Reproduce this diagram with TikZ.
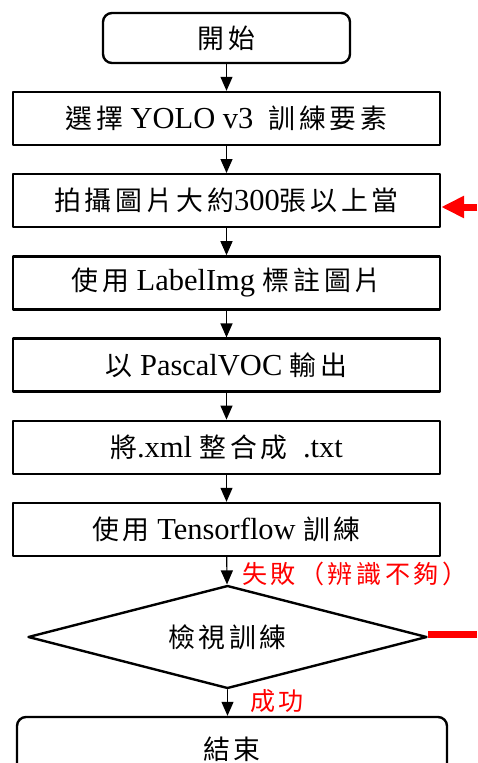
\documentclass[tikz,border=0pt]{standalone}
\usepackage{fontspec}
\setmainfont{Liberation Serif}
\newfontfamily\cjk[Scale=0.88,LetterSpace=14]{Noto Sans CJK TC}
\usetikzlibrary{arrows.meta,shapes.geometric}

\begin{document}
\begin{tikzpicture}[
  x=1pt, y=-1pt,
  >={Triangle[length=14pt,width=12pt]},
  line cap=round,
  line join=round,
  every node/.style={font=\fontsize{30.5}{34}\selectfont},
  stepbox/.style={draw, line width=2.4pt, minimum width=427pt, minimum height=53pt, inner sep=0pt},
  termbox/.style={stepbox, rounded corners=9pt},
  flow/.style={->, line width=1.2pt},
  redlbl/.style={text=red, font=\fontsize{28.5}{31}\selectfont\cjk, inner sep=1pt}
]
  \useasboundingbox (0,0) rectangle (477,763);

  % Start and end (end is cut by the page edge)
  \node[termbox, minimum width=247pt, minimum height=50pt] (start) at (226.5,38) {\cjk 開始};
  \node[termbox, minimum width=430pt, minimum height=64pt] (stop) at (232,749) {\cjk 結束};

  % Process steps
  \node[stepbox] (s1) at (226.5,118.5) {{\cjk 選擇} YOLO v3 \ {\cjk 訓練要素}};
  \node[stepbox] (s2) at (226.5,200.7) {{\cjk 拍攝圖片大約}300{\cjk 張以上當}};
  \node[stepbox] (s3) at (226.5,282.9) {{\cjk 使用} LabelImg {\cjk 標註圖片}};
  \node[stepbox] (s4) at (226.5,365.1) {{\cjk 以} PascalVOC {\cjk 輸出}};
  \node[stepbox] (s5) at (226.5,447.3) {{\cjk 將}.xml {\cjk 整合成} \ .txt};
  \node[stepbox] (s6) at (226.5,529.5) {{\cjk 使用} Tensorflow {\cjk 訓練}};

  % Decision
  \node[draw, diamond, aspect=4, line width=2.4pt, inner sep=0pt,
        minimum width=399pt, minimum height=103pt] (check) at (227.5,637) {\cjk 檢視訓練};

  % Main flow
  \draw[flow] (start) -- (s1);
  \draw[flow] (s1) -- (s2);
  \draw[flow] (s2) -- (s3);
  \draw[flow] (s3) -- (s4);
  \draw[flow] (s4) -- (s5);
  \draw[flow] (s5) -- (s6);
  \draw[flow] (s6) -- (check);
  \draw[flow] (check.south) -- (check.south |- stop.north);

  % Feedback loop (cut off at the right edge)
  \coordinate (loopin) at (477,207);
  \coordinate (loopout) at (477,634);
  \draw[red, line width=7pt, line cap=butt, -{Triangle[length=23pt,width=21pt]}]
    (loopin) -- (s2.east |- loopin);
  \draw[red, line width=7pt, line cap=butt] (check.east |- loopout) -- (loopout);

  % Branch labels
  \node[redlbl, anchor=west] (fail) at (241,574) {失敗（辨識不夠）};
  \node[redlbl, anchor=west] (pass) at (249,701) {成功};
\end{tikzpicture}
\end{document}
